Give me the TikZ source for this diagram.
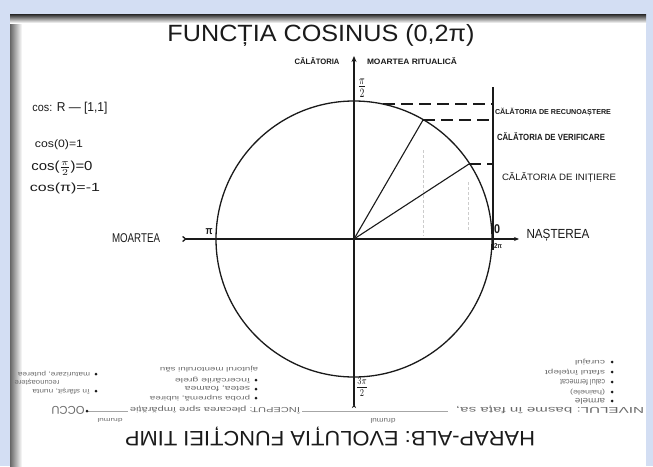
\documentclass[tikz,border=0pt]{standalone}
\usepackage{fontspec}
\setmainfont{Liberation Sans}
\usepackage{graphicx}
\usetikzlibrary{arrows.meta}
\definecolor{frameblue}{HTML}{D3DEF3}
\definecolor{ink}{HTML}{1A1A1A}
\definecolor{faint}{HTML}{6A6A6A}
\newcommand\fitt[3]{\resizebox*{#1pt}{#2pt}{#3}}
\begin{document}
\begin{tikzpicture}[x=1pt,y=-1pt,
  ax/.style={line width=1.3pt, draw=ink},
  hand/.style={inner sep=0pt, outer sep=0pt, text=ink},
  upside/.style={hand, rotate=180},
  upfaint/.style={upside, text=faint},
  dashline/.style={line width=1.3pt, draw=ink, dash pattern=on 12pt off 6pt},
  guide/.style={draw=gray!40, line width=0.6pt, dash pattern=on 3pt off 2pt},
  thinline/.style={draw=gray!70, line width=0.8pt},
  bul/.style={circle, fill=ink, inner sep=0pt, minimum size=3pt}]
\useasboundingbox (0,0) rectangle (653,466);
% frame and page
\fill[frameblue] (0,0) rectangle (653,466);
\fill[white] (10,14) rectangle (646,466);
\shade[left color=black!60, right color=white] (10,14) rectangle (22,466);
\shade[top color=black!85, bottom color=white] (10,14) rectangle (646,23);
% title
\node[hand] (title) at (321,35) {\fitt{307}{22}{FUNCȚIA COSINUS (0,2π)}};
% geometry coordinates
\coordinate (O) at (354,239);
\coordinate (Vtop) at (354,56);
\coordinate (Vbot) at (354,408);
\coordinate (Hl) at (182,239);
\coordinate (Hr) at (519,239);
\coordinate (P60) at (423,120);
\coordinate (P33) at (469,164);
\coordinate (T1) at (383,104);
\coordinate (R0) at (493,87);
\coordinate (R1) at (493,104);
\coordinate (R2) at (493,120);
\coordinate (R3) at (493,164);
\coordinate (R4) at (493,250);
\coordinate (G1a) at (423,150);
\coordinate (G1b) at (423,236);
\coordinate (G2a) at (468,182);
\coordinate (G2b) at (468,232);
% circle and axes
\draw[ax] (O) circle[radius=138pt];
\draw[ax, {Straight Barb[reversed,length=3pt,width=5pt]}-{Stealth[length=5pt,width=4pt]}] (Hl) -- (Hr);
\draw[ax, {Stealth[reversed,length=4pt,width=4pt]}-{Stealth[length=6pt,width=5pt]}] (Vbot) -- (Vtop);
\draw[ax, line width=1.1pt] (O) -- (P60);
\draw[ax, line width=1.1pt] (O) -- (P33);
\draw[ax, line width=1.1pt] (R0) -- (R4);
\draw[dashline] (T1) -- (R1);
\draw[dashline] (P60) -- (R2);
\draw[dashline] (P33) -- (R3);
\draw[guide] (G1a) -- (G1b);
\draw[guide] (G2a) -- (G2b);
% axis labels
\node[hand] (lcal) at (317,61) {\fitt{45}{7}{\bfseries CĂLĂTORIA}};
\node[hand] (lmr) at (412,61) {\fitt{90}{7}{\bfseries MOARTEA RITUALICĂ}};
\node[hand] (lpi2) at (362,88) {\fitt{9}{19}{$\frac{\pi}{2}$}};
\node[hand] (l3pi2) at (362,387) {\fitt{12}{18}{$\frac{3\pi}{2}$}};
\node[hand] (lpi) at (209,232) {\fitt{7}{6}{\bfseries π}};
\node[hand] (lzero) at (497,229) {\fitt{6}{9}{\bfseries 0}};
\node[hand] (l2pi) at (498,246) {\fitt{8}{5}{\bfseries 2π}};
\node[hand] (lmoarte) at (136,238) {\fitt{48}{9}{MOARTEA}};
\node[hand] (lnast) at (558,235) {\fitt{63}{12}{NAȘTEREA}};
% right labels
\node[hand] (c1) at (553,112) {\fitt{116}{8}{\bfseries CĂLĂTORIA DE RECUNOAȘTERE}};
\node[hand] (c2) at (551,137) {\fitt{108}{8}{\bfseries CĂLĂTORIA DE VERIFICARE}};
\node[hand] (c3) at (559,177) {\fitt{114}{10}{CĂLĂTORIA DE INIȚIERE}};
% left formulas
\node[hand] (f1) at (70,108) {\fitt{75}{12}{{\small cos:} R — [1,1]}};
\node[hand] (f2) at (59,145) {\fitt{48}{10}{cos(0)=1}};
\node[hand] (f3) at (62,168) {\fitt{61}{14}{cos($\frac{\pi}{2}$)=0}};
\node[hand] (f4) at (65,188) {\fitt{70}{11}{cos(π)=-1}};
% upside-down bottom part
\node[upside] (btitle) at (330,437) {\fitt{410}{19}{HARAP-ALB: EVOLUȚIA FUNCȚIEI TIMP}};
% timeline row
\coordinate (La) at (87,411);
\coordinate (Lb) at (128,411);
\coordinate (Ma) at (302,411);
\coordinate (Mb) at (448,411);
\draw[thinline] (La) -- (Lb);
\draw[thinline] (Ma) -- (Mb);
\node[bul] (bLa) at (La) {};
\node[upfaint] (t0) at (68,410) {\fitt{33}{8}{OCCU}};
\node[upfaint] (t0s) at (110,420) {\fitt{25}{4}{drumul}};
\node[upfaint] (t1) at (215,410) {\fitt{170}{8}{ÎNCEPUT: plecarea spre împărăție}};
\node[upfaint] (t1s) at (383,421) {\fitt{25}{5}{drumul}};
\node[upfaint] (t2) at (550,410) {\fitt{188}{8}{NIVELUL: basme în fața sa,}};
% right list (text right edge at 605)
\foreach \yy/\ww/\txt [count=\i] in {362/30/curajul,372/60/sfatul înțelept,382/45/calul fermecat,392/35/(hainele),401/30/armele}{
  \node[bul] (rb\i) at (612,\yy) {};
  \node[upfaint] (rt\i) at ({605-\ww/2},\yy) {\fitt{\ww}{6}{\txt}};
}
% middle-left list
\node[upfaint] (mt0) at (209,369) {\fitt{98}{6}{ajutorul mentorului său}};
\foreach \yy/\ww/\txt [count=\i] in {380/75/încercările grele,389/65/{setea, foamea},398/100/{proba supremă, iubirea}}{
  \node[bul] (mb\i) at (256,\yy) {};
  \node[upfaint] (mt\i) at ({250-\ww/2},\yy) {\fitt{\ww}{6}{\txt}};
}
% left list
\node[bul] (lb1) at (96,374) {};
\node[upfaint] (lt1) at (54,374) {\fitt{72}{6}{maturizare, puterea}};
\node[upfaint] (lt2) at (37,382) {\fitt{45}{6}{recunoaștere}};
\node[bul] (lb3) at (96,391) {};
\node[upfaint] (lt3) at (61,391) {\fitt{57}{6}{în sfârșit, nunta}};
\end{tikzpicture}
\end{document}
